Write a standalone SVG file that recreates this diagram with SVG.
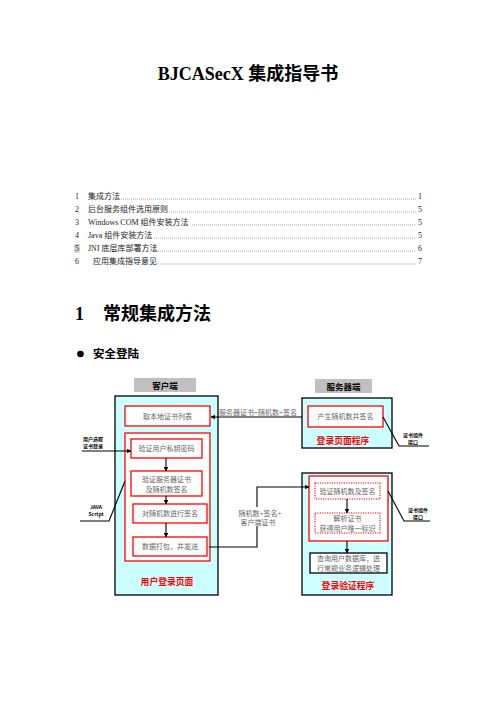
<svg xmlns="http://www.w3.org/2000/svg" width="496" height="702" viewBox="0 0 496 702">
<style>
.serif{font-family:"Liberation Serif","Noto Sans CJK SC",serif}
.title{font-size:18px;font-weight:bold;fill:#000}
.h1{font-size:18px;font-weight:bold;fill:#000}
.toc{font-size:8px;fill:#222}
.lead{stroke:#555;stroke-width:0.7;stroke-dasharray:0.7 1.3}
.cyan{fill:#ccffff;stroke:#000;stroke-width:1.3}
.redbox{fill:#fff;stroke:#ff0000;stroke-width:1.3}
.dash{fill:#fff;stroke:#ff0000;stroke-width:1.1;stroke-dasharray:1.2 1.2}
.blk{fill:#fff;stroke:#000;stroke-width:1.3}
.hdr{fill:#c0c0c0}
.t{font-family:"Liberation Serif","Noto Sans CJK SC",serif;font-size:7px;fill:#666;text-anchor:middle}
.hb{font-family:"Noto Sans CJK SC",sans-serif;font-size:8.5px;font-weight:bold;fill:#000;text-anchor:middle}
.rl{font-family:"Noto Sans CJK SC",sans-serif;font-size:8.8px;font-weight:bold;fill:#ff0000;text-anchor:middle}
.sm{font-family:"Noto Sans CJK SC",sans-serif;font-size:5px;font-weight:bold;fill:#000;text-anchor:middle}
.ln{stroke:#000;stroke-width:1.1;fill:none}
</style>
<defs>
<marker id="ah" viewBox="0 0 10 10" refX="9" refY="5" markerWidth="4" markerHeight="4" orient="auto">
<path d="M0,0 L10,5 L0,10 z" fill="#000"/>
</marker>
</defs>
<rect width="496" height="702" fill="#fff"/>

<g id="title">
<text class="serif title" x="248" y="80" text-anchor="middle">BJCASecX 集成指导书</text>
</g>

<g id="toc" class="serif toc">
<text x="75" y="199">1</text><text x="88" y="199">集成方法</text>
<line class="lead" x1="121" y1="199" x2="416" y2="199"/><text x="418" y="199">1</text>
<text x="75" y="212">2</text><text x="88" y="212">后台服务组件选用原则</text>
<line class="lead" x1="169" y1="212" x2="416" y2="212"/><text x="418" y="212">5</text>
<text x="75" y="225">3</text><text x="88" y="225">Windows COM 组件安装方法</text>
<line class="lead" x1="192" y1="225" x2="416" y2="225"/><text x="418" y="225">5</text>
<text x="75" y="238">4</text><text x="88" y="238">Java 组件安装方法</text>
<line class="lead" x1="154" y1="238" x2="416" y2="238"/><text x="418" y="238">5</text>
<rect x="74" y="244" width="6" height="9" fill="#d8d8d8"/>
<text x="75" y="251">5</text><text x="88" y="251">JNI 底层库部署方法</text>
<line class="lead" x1="154" y1="251" x2="416" y2="251"/><text x="418" y="251">6</text>
<text x="75" y="264">6</text><text x="93" y="264">应用集成指导意见</text>
<line class="lead" x1="158" y1="264" x2="416" y2="264"/><text x="418" y="264">7</text>
</g>

<g id="heading">
<text class="serif h1" x="75" y="320">1</text>
<text class="h1" x="103" y="320" style="font-family:'Noto Sans CJK SC',sans-serif">常规集成方法</text>
<circle cx="80.5" cy="354" r="3.3" fill="#000"/>
<text x="93" y="358" style="font-family:'Noto Sans CJK SC',sans-serif;font-size:11.5px;font-weight:bold">安全登陆</text>
</g>

<g id="client">
<rect class="hdr" x="134" y="378" width="62" height="14"/>
<text class="hb" x="165" y="388.5">客户端</text>
<rect class="cyan" x="115" y="396" width="103" height="199"/>
<text class="rl" x="167" y="585">用户登录页面</text>
</g>
<g id="n-getcert">
<rect class="redbox" x="125" y="406" width="85" height="20"/>
<text class="t" x="167.5" y="418.5">取本地证书列表</text>
</g>
<g id="n-group">
<rect class="redbox" x="125" y="433" width="85" height="128"/>
</g>
<g id="n-verifykey">
<rect class="redbox" x="131" y="439" width="71" height="19"/>
<text class="t" x="166.5" y="451">验证用户私钥密码</text>
</g>
<g id="n-verifyserver">
<rect class="redbox" x="131" y="471" width="71" height="25"/>
<text class="t" x="166.5" y="481.5">验证服务器证书</text>
<text class="t" x="166.5" y="491.5">及随机数签名</text>
</g>
<g id="n-sign">
<rect class="redbox" x="133" y="504" width="74" height="19"/>
<text class="t" x="170" y="516">对随机数进行签名</text>
</g>
<g id="n-pack">
<rect class="redbox" x="133" y="537" width="74" height="19"/>
<text class="t" x="170" y="549">数据打包，并发送</text>
</g>

<g id="server">
<rect class="hdr" x="315" y="379" width="57" height="14"/>
<text class="hb" x="343.5" y="389.5">服务器端</text>
</g>
<g id="n-loginprog">
<rect class="cyan" x="302" y="398" width="90" height="50"/>
<rect class="redbox" x="308" y="406" width="75" height="21"/>
<text class="t" x="345.5" y="419">产生随机数并签名</text>
<text class="rl" x="343" y="444">登录页面程序</text>
</g>
<g id="n-verifyprog">
<rect class="cyan" x="302" y="473" width="90" height="122"/>
<rect class="redbox" x="309" y="476" width="79" height="65"/>
<rect class="dash" x="315" y="483" width="65" height="16"/>
<text class="t" x="347.5" y="493.5">验证随机数及签名</text>
<rect class="dash" x="315" y="513" width="65" height="20"/>
<text class="t" x="347.5" y="521">解析证书</text>
<text class="t" x="347.5" y="530.5">获得用户唯一标识</text>
<rect class="blk" x="310" y="553" width="77" height="20"/>
<text class="t" x="348.5" y="561">查询用户数据库，进</text>
<text class="t" x="348.5" y="570.5">行常规业务逻辑处理</text>
<text class="rl" x="348" y="589">登录验证程序</text>
</g>

<g id="labels">
<text class="sm" x="93" y="441">用户选取</text>
<text class="sm" x="93" y="448">证书登录</text>
<text class="sm" x="96" y="509">JAVA</text>
<text class="sm" x="96" y="516">Scrtpt</text>
<text class="sm" x="413" y="437">证书组件</text>
<text class="sm" x="413" y="444">接口</text>
<text class="sm" x="418" y="512">证书组件</text>
<text class="sm" x="418" y="519">接口</text>
</g>

<g id="connectors">
<line class="ln" x1="302" y1="417" x2="211" y2="417" marker-end="url(#ah)"/>
<text class="t" x="258" y="414.5">服务器证书+随机数+签名</text>
<polyline class="ln" points="209,547 257,547 257,487 309,487" marker-end="url(#ah)"/>
<rect x="238" y="507" width="42" height="19" fill="#fff"/>
<text class="t" x="260" y="516">随机数+签名+</text>
<text class="t" x="258" y="525">客户端证书</text>
<line class="ln" x1="166" y1="458" x2="166" y2="471" marker-end="url(#ah)"/>
<line class="ln" x1="166" y1="496" x2="166" y2="504" marker-end="url(#ah)"/>
<line class="ln" x1="166" y1="523" x2="166" y2="537" marker-end="url(#ah)"/>
<line class="ln" x1="347" y1="499" x2="347" y2="513" marker-end="url(#ah)"/>
<line class="ln" x1="347" y1="541" x2="347" y2="553" marker-end="url(#ah)"/>
<line class="ln" x1="82" y1="451" x2="131" y2="451" marker-end="url(#ah)"/>
<polyline class="ln" points="80,521 109,521 125,481"/>
<polyline class="ln" points="383,417 399,446 429,446"/>
<polyline class="ln" points="388,491 404,521 430,521"/>
</g>
</svg>
